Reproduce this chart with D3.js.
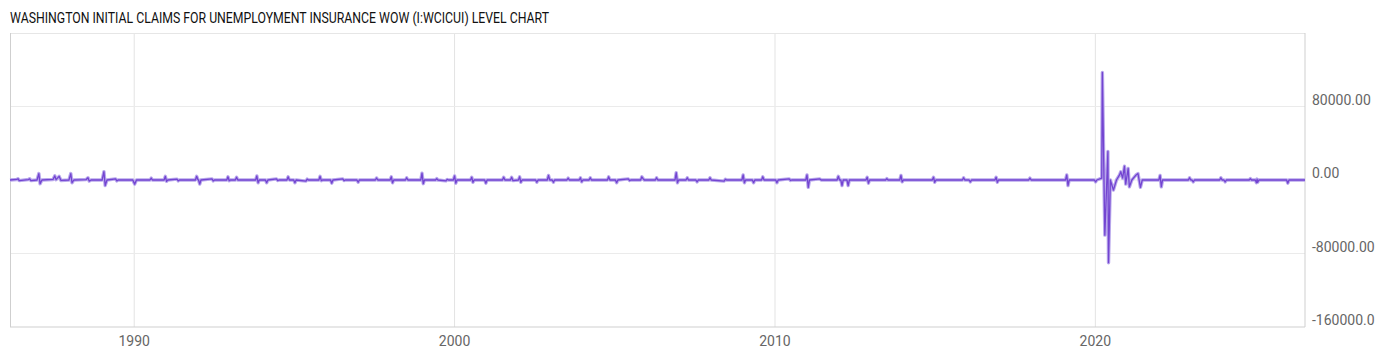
<!DOCTYPE html>
<html>
<head>
  <title>Washington Initial Claims WoW</title>
  <script src="https://cdn.jsdelivr.net/npm/d3@7/dist/d3.min.js"></script>
  <style>
    body { margin: 0; background: #fff; overflow: hidden; }
    svg { display: block; }
    text { font-family: Roboto, 'Noto Sans', sans-serif; }
  </style>
</head>
<body>
  <svg width="1400" height="357"></svg>
  <script>
    // weekly change in claims (date, change)
    const claims1980s = [
      ['1986-02-15', 0], ['1986-05-03', 600], ['1986-05-17', 1400], ['1986-05-31', -700], ['1986-09-13', 500],
      ['1986-09-27', 1300], ['1986-10-11', -600], ['1986-12-20', 0], ['1987-01-10', 7000], ['1987-01-24', -4000],
      ['1987-02-14', 0], ['1987-06-20', 600], ['1987-07-11', 4500], ['1987-07-25', 400], ['1987-08-29', 4000],
      ['1987-09-19', -500], ['1987-12-19', 0], ['1988-01-09', 7000], ['1988-01-23', -3000], ['1988-02-13', 0],
      ['1988-07-02', 500], ['1988-07-23', 2500], ['1988-08-06', -1200], ['1988-08-27', 0], ['1988-12-31', 0],
      ['1989-01-21', 9000], ['1989-02-04', -6000], ['1989-02-25', 0], ['1989-06-03', 1200], ['1989-06-17', -1000],
      ['1989-07-01', 0], ['1989-12-16', 0]
    ];
    const claims1990s = [
      ['1990-01-06', -4500], ['1990-01-27', 0],
      ['1990-06-30', 0], ['1990-07-14', 2000], ['1990-07-28', 0],
      ['1990-12-08', 0], ['1990-12-22', 4000], ['1991-01-05', -1500], ['1991-01-19', 0],
      ['1991-05-04', 1000], ['1991-05-18', -1000], ['1991-06-01', 0],
      ['1991-11-30', 0], ['1991-12-14', 4000], ['1991-12-28', 500], ['1992-01-04', 0], ['1992-01-18', -4500], ['1992-02-01', 0],
      ['1992-06-06', 1200], ['1992-06-20', -1000], ['1992-07-04', 0],
      ['1992-11-21', 0], ['1992-12-05', 3500], ['1992-12-19', -800], ['1993-01-02', 0],
      ['1993-02-27', 0], ['1993-03-13', 3000], ['1993-03-27', 0],
      ['1993-10-16', 0], ['1993-10-30', 4500], ['1993-11-13', -3000], ['1993-11-27', 0],
      ['1994-02-05', 0], ['1994-02-19', -3000], ['1994-03-05', 0],
      ['1994-06-11', 1200], ['1994-06-25', -600], ['1994-07-09', 0],
      ['1994-10-08', 0], ['1994-10-22', 3500], ['1994-11-05', 0],
      ['1994-12-24', 0], ['1995-01-07', -3000], ['1995-01-21', 0],
      ['1995-05-13', -1200], ['1995-05-27', 1000], ['1995-06-10', 0],
      ['1995-10-07', 0], ['1995-10-21', 4000], ['1995-11-04', -700], ['1995-11-18', 0],
      ['1996-02-17', 0], ['1996-03-02', -3500], ['1996-03-16', 0],
      ['1996-07-06', 1200], ['1996-07-20', -600], ['1996-08-03', 0],
      ['1996-12-14', 0], ['1996-12-28', -2500], ['1997-01-11', 0],
      ['1997-07-12', 0], ['1997-07-26', 2200], ['1997-08-09', 0],
      ['1997-12-27', 0], ['1998-01-10', 3500], ['1998-01-24', -3000], ['1998-02-07', 0],
      ['1998-06-20', 0], ['1998-07-04', 2500], ['1998-07-18', 0],
      ['1998-12-12', 0], ['1998-12-26', 7500], ['1999-01-09', -4000], ['1999-01-23', 0],
      ['1999-05-29', 0], ['1999-06-12', 1500], ['1999-06-26', 0],
      ['1999-09-25', -1000], ['1999-10-09', 600], ['1999-10-23', 0], ['1999-12-18', 0]
    ];
    const claims2000s = [
      ['2000-01-01', 4500], ['2000-01-15', -3500], ['2000-01-29', 0],
      ['2000-07-01', 0], ['2000-07-15', 3000], ['2000-07-29', -2500], ['2000-08-12', 0],
      ['2000-12-09', 0], ['2000-12-23', -3500], ['2001-01-06', 0],
      ['2001-06-30', 0], ['2001-07-14', 3000], ['2001-07-28', 0],
      ['2001-09-29', 0], ['2001-10-13', 3000], ['2001-10-27', -600], ['2001-12-29', 0],
      ['2002-01-12', 3500], ['2002-01-26', -2500], ['2002-02-09', 0],
      ['2002-07-13', 0], ['2002-07-27', -2500], ['2002-08-10', 0],
      ['2002-11-23', 0], ['2002-12-07', 5000], ['2002-12-21', 0],
      ['2003-01-18', 0], ['2003-02-01', -2500], ['2003-02-15', 0],
      ['2003-07-05', 0], ['2003-07-19', 2000], ['2003-08-02', 0],
      ['2003-11-22', 0], ['2003-12-06', 2500], ['2003-12-20', -2000], ['2004-01-03', 0],
      ['2004-03-13', 0], ['2004-03-27', 2500], ['2004-04-10', 0],
      ['2004-10-09', 0], ['2004-10-23', 3500], ['2004-11-06', 0],
      ['2005-01-08', 0], ['2005-01-22', -3000], ['2005-02-05', 0],
      ['2005-06-04', 1200], ['2005-06-18', -600], ['2005-07-02', 0],
      ['2005-10-22', 0], ['2005-11-05', 3500], ['2005-11-19', 1500], ['2005-12-03', 0],
      ['2006-04-08', 0], ['2006-04-22', 2500], ['2006-05-06', 0],
      ['2006-11-18', 0], ['2006-12-02', 8000], ['2006-12-16', -3000], ['2006-12-30', 0],
      ['2007-03-24', 0], ['2007-04-07', 2500], ['2007-04-21', 0],
      ['2007-07-14', 0], ['2007-07-28', -2000], ['2007-08-11', 0],
      ['2007-12-08', 0], ['2007-12-22', 2500], ['2008-01-05', 0],
      ['2008-05-31', -1200], ['2008-06-14', 800], ['2008-06-28', 0],
      ['2008-12-20', 0], ['2009-01-03', 5500], ['2009-01-17', -3000], ['2009-01-31', 0],
      ['2009-04-18', 0], ['2009-05-02', -3000], ['2009-05-16', 0],
      ['2009-08-01', 0], ['2009-08-15', 3500], ['2009-08-29', 0]
    ];
    const claims2010s = [
      ['2010-01-09', 0], ['2010-01-23', -3000], ['2010-02-06', 0],
      ['2010-06-12', 1200], ['2010-06-26', -500], ['2010-07-10', 0],
      ['2010-12-18', 0], ['2011-01-01', 5500], ['2011-01-15', -8000], ['2011-01-29', 0],
      ['2011-05-28', 1200], ['2011-06-11', 0],
      ['2011-12-10', 0], ['2011-12-24', 4000], ['2012-01-07', 0],
      ['2012-01-21', 0], ['2012-02-04', -6000], ['2012-02-18', 0],
      ['2012-03-31', 0], ['2012-04-14', -6000], ['2012-04-28', 0],
      ['2012-11-03', 0], ['2012-11-17', 3000], ['2012-12-01', -3500], ['2012-12-15', 0],
      ['2013-06-15', 0], ['2013-06-29', 1500], ['2013-07-13', 0],
      ['2013-11-23', 0], ['2013-12-07', 5000], ['2013-12-21', -2000], ['2014-01-04', 0],
      ['2014-11-29', 0], ['2014-12-13', 3000], ['2014-12-27', -2500], ['2015-01-10', 0],
      ['2015-11-07', 0], ['2015-11-21', 2500], ['2015-12-05', 0],
      ['2016-01-23', 0], ['2016-02-06', -2000], ['2016-02-20', 0],
      ['2016-11-12', 0], ['2016-11-26', 3000], ['2016-12-10', -2500], ['2016-12-24', 0],
      ['2017-12-02', 0], ['2017-12-16', 2000], ['2017-12-30', 0],
      ['2019-01-26', 0], ['2019-02-09', 5500], ['2019-02-23', -6000], ['2019-03-09', 0],
      ['2019-12-21', 0]
    ];
    const claims2020s = [
      ['2020-01-04', -2000], ['2020-01-18', 0],
      ['2020-03-14', 2000], ['2020-03-21', 117000], ['2020-04-18', -60000], ['2020-05-23', 31000],
      ['2020-05-30', -90000], ['2020-06-20', 0], ['2020-07-25', -11000], ['2020-08-29', 0],
      ['2020-10-03', 5500], ['2020-10-17', 9000], ['2020-11-07', 2000], ['2020-11-28', 15000],
      ['2020-12-12', -4500], ['2021-01-09', 12500], ['2021-01-23', -7500], ['2021-02-20', 0],
      ['2021-04-10', 5500], ['2021-05-01', 7000], ['2021-05-29', -8000], ['2021-06-19', 0],
      ['2021-12-25', 0], ['2022-01-08', 5000], ['2022-01-22', -7500], ['2022-02-05', 0],
      ['2022-11-26', 0], ['2022-12-10', 2500], ['2022-12-24', 0],
      ['2023-01-07', 0], ['2023-01-21', -2000], ['2023-02-04', 0],
      ['2023-11-18', 0], ['2023-12-02', 2500], ['2023-12-16', 0],
      ['2024-01-06', 0], ['2024-01-20', -2000], ['2024-02-03', 0],
      ['2024-10-19', 0], ['2024-11-02', 1500], ['2024-11-16', 0],
      ['2024-12-28', 0], ['2025-01-11', -3000], ['2025-01-18', 1000], ['2025-01-25', -2500], ['2025-02-08', 0],
      ['2025-12-20', 0], ['2026-01-03', -3500], ['2026-01-17', 0],
      ['2026-07-18', 0]
    ];

    const yearTicks = [1990, 2000, 2010, 2020];
    const valueTicks = [80000, 0, -80000, -160000];
    const valueTickLabels = ['80000.00', '0.00', '-80000.00', '-160000.0'];
    const title = 'WASHINGTON INITIAL CLAIMS FOR UNEMPLOYMENT INSURANCE WOW (I:WCICUI) LEVEL CHART';

    const svg = d3.select('svg');
    const margin = { top: 33, right: 95, bottom: 30, left: 10 };
    const width = +svg.attr('width');
    const height = +svg.attr('height');
    const innerWidth = width - margin.left - margin.right;
    const innerHeight = height - margin.top - margin.bottom;

    const parse = d3.timeParse('%Y-%m-%d');
    const data = [].concat(claims1980s, claims1990s, claims2000s, claims2010s, claims2020s)
      .map(d => ({ date: parse(d[0]), value: d[1] }));

    // scales in page coordinates
    const plotLeft = margin.left;
    const plotRight = margin.left + innerWidth;
    const plotTop = margin.top;
    const plotBottom = margin.top + innerHeight;

    const x = d3.scaleTime()
      .domain(d3.extent(data, d => d.date))
      .range([plotLeft, plotRight]);
    const y = d3.scaleLinear()
      .domain([-160000, 160000])
      .range([plotBottom, plotTop]);

    svg.append('text')
      .attr('x', 10)
      .attr('y', 23)
      .attr('font-size', 15)
      .attr('fill', '#111')
      .attr('textLength', 539)
      .attr('lengthAdjust', 'spacingAndGlyphs')
      .text(title);

    // grid
    svg.selectAll('.vgrid')
      .data(yearTicks)
      .enter()
      .append('line')
      .attr('class', 'vgrid')
      .attr('x1', d => x(new Date(d, 0, 1)))
      .attr('x2', d => x(new Date(d, 0, 1)))
      .attr('y1', plotTop)
      .attr('y2', plotBottom)
      .attr('stroke', '#e3e3e3');

    svg.selectAll('.hgrid')
      .data(valueTicks.filter(v => v > -160000))
      .enter()
      .append('line')
      .attr('class', 'hgrid')
      .attr('x1', plotLeft)
      .attr('x2', plotRight)
      .attr('y1', d => y(d))
      .attr('y2', d => y(d))
      .attr('stroke', '#ebebeb');

    // frame
    svg.append('line').attr('x1', plotLeft).attr('x2', plotRight).attr('y1', plotTop + 0.5).attr('y2', plotTop + 0.5).attr('stroke', '#e6e6e6');
    svg.append('line').attr('x1', plotLeft + 0.5).attr('x2', plotLeft + 0.5).attr('y1', plotTop).attr('y2', plotBottom).attr('stroke', '#cfcfcf');
    svg.append('line').attr('x1', plotRight).attr('x2', plotRight).attr('y1', plotTop).attr('y2', plotBottom).attr('stroke', '#cfcfcf');
    svg.append('line').attr('x1', plotLeft).attr('x2', plotRight).attr('y1', plotBottom).attr('y2', plotBottom).attr('stroke', '#cfcfcf');

    const line = d3.line()
      .x(d => x(d.date))
      .y(d => y(d.value));

    // soft band under the line, the dense weekly noise reads as a pale lavender band
    svg.append('path')
      .datum(data)
      .attr('d', line)
      .attr('fill', 'none')
      .attr('stroke', '#b9a8ec')
      .attr('stroke-width', 3.4)
      .attr('stroke-linejoin', 'round');

    svg.append('path')
      .datum(data)
      .attr('d', line)
      .attr('fill', 'none')
      .attr('stroke', '#6633cc')
      .attr('stroke-width', 1.3)
      .attr('stroke-opacity', 0.85)
      .attr('stroke-linejoin', 'round');

    // axis labels
    svg.selectAll('.xlabel')
      .data(yearTicks)
      .enter()
      .append('text')
      .attr('class', 'xlabel')
      .attr('x', d => x(new Date(d, 0, 1)))
      .attr('y', plotBottom + 19)
      .attr('text-anchor', 'middle')
      .attr('font-size', 14)
      .attr('fill', '#666')
      .text(d => d);

    svg.selectAll('.ylabel')
      .data(valueTicks)
      .enter()
      .append('text')
      .attr('class', 'ylabel')
      .attr('x', plotRight + 7)
      .attr('y', d => y(d) - 2)
      .attr('font-size', 14)
      .attr('fill', '#666')
      .text((d, i) => valueTickLabels[i]);
  </script>
</body>
</html>
